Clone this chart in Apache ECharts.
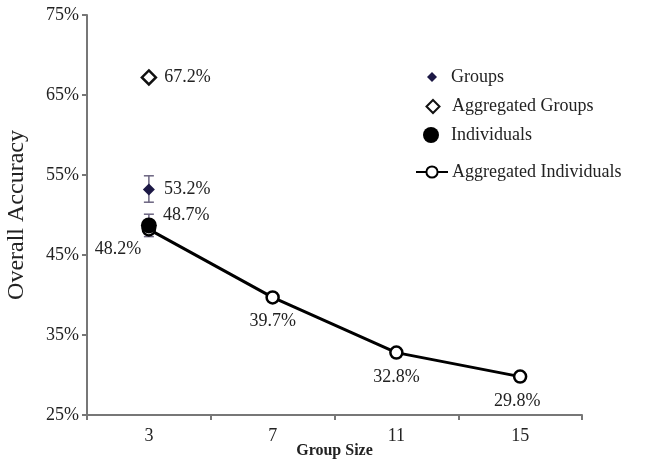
<!DOCTYPE html>
<html>
<head>
<meta charset="utf-8">
<script src="https://cdn.jsdelivr.net/npm/echarts@6/dist/echarts.min.js"></script>
<style>
  html, body { margin: 0; padding: 0; background: #fff; }
  #chart { width: 650px; height: 462px; }
</style>
</head>
<body>
<div id="chart"></div>
<script>
// group sizes on the x axis
const groupSizes = ['3', '7', '11', '15'];

// accuracy values (%)
const groupsVals = [53.2, null, null, null];
const groupsErr = [[0, 51.6, 54.9]];
const aggGroupsVals = [67.2, null, null, null];
const individualsVals = [48.7, null, null, null];
const individualsErr = [[0, 47.3, 50.1]];
const aggIndividualsVals = [48.2, 39.7, 32.8, 29.8];

const font = 'Liberation Serif';

const pctLabel = function (p) {
  return p.value.toFixed(1) + '%';
};

function errorBar(color) {
  return function (params, api) {
    const x = api.value(0);
    const lo = api.coord([x, api.value(1)]);
    const hi = api.coord([x, api.value(2)]);
    const w = 5;
    const st = { stroke: color, lineWidth: 1.5 };
    return {
      type: 'group',
      children: [
        { type: 'line', shape: { x1: lo[0], y1: lo[1], x2: hi[0], y2: hi[1] }, style: st },
        { type: 'line', shape: { x1: lo[0] - w, y1: lo[1], x2: lo[0] + w, y2: lo[1] }, style: st },
        { type: 'line', shape: { x1: hi[0] - w, y1: hi[1], x2: hi[0] + w, y2: hi[1] }, style: st }
      ]
    };
  };
}

// one legend per entry so each icon keeps its own size; text starts at x=451
function legendItem(name, w, h, centerX, centerY) {
  const left = centerX - w / 2;
  return {
    orient: 'vertical',
    left: left,
    top: centerY - h / 2,
    padding: 0,
    itemWidth: w,
    itemHeight: h,
    textStyle: {
      fontFamily: font, fontSize: 18, color: '#222',
      padding: [0, 0, 0, 451 - (left + w + 5)]
    },
    data: [name]
  };
}

var myChart = echarts.init(document.getElementById('chart'));

option = {
  animation: false,
  textStyle: { fontFamily: font },
  grid: { left: 87, right: 68, top: 15, bottom: 47, outerBoundsMode: 'none' },
  legend: [
    legendItem('Groups', 10, 10, 432, 73),
    legendItem('Aggregated Groups', 13, 13, 432, 104),
    legendItem('Individuals', 16, 16, 431, 134),
    legendItem('Aggregated Individuals', 32, 14, 431, 170)
  ],
  xAxis: {
    type: 'category',
    data: groupSizes,
    name: 'Group Size',
    nameLocation: 'middle',
    nameGap: 28,
    nameMoveOverlap: false,
    nameTextStyle: { fontFamily: font, fontSize: 16, fontWeight: 'bold', color: '#222' },
    axisLine: { lineStyle: { color: '#777', width: 2 } },
    axisTick: { show: true, alignWithLabel: false, length: 5, lineStyle: { color: '#777', width: 2 } },
    axisLabel: { fontFamily: font, fontSize: 18, color: '#222', margin: 12 }
  },
  yAxis: {
    type: 'value',
    min: 25,
    max: 75,
    interval: 10,
    name: 'Overall Accuracy',
    nameLocation: 'middle',
    nameGap: 58,
    nameMoveOverlap: false,
    nameTextStyle: { fontFamily: font, fontSize: 24, color: '#222' },
    axisLine: { show: true, lineStyle: { color: '#777', width: 2 } },
    axisTick: { show: true, length: 5, lineStyle: { color: '#777', width: 2 } },
    splitLine: { show: false },
    axisLabel: { fontFamily: font, fontSize: 18, color: '#222', margin: 8, formatter: '{value}%' }
  },
  series: [
    {
      name: 'Groups err',
      type: 'custom',
      renderItem: errorBar('#6b6480'),
      encode: { x: 0, y: [1, 2] },
      data: groupsErr,
      z: 2
    },
    {
      name: 'Individuals err',
      type: 'custom',
      renderItem: errorBar('#6b6480'),
      encode: { x: 0, y: [1, 2] },
      data: individualsErr,
      z: 2
    },
    {
      name: 'Groups',
      type: 'scatter',
      symbol: 'diamond',
      symbolSize: 12,
      itemStyle: { color: '#1c1845', opacity: 1 },
      label: { show: true, position: 'right', distance: 9, formatter: pctLabel, fontFamily: font, fontSize: 18, color: '#222' },
      data: groupsVals,
      z: 3
    },
    {
      name: 'Aggregated Groups',
      type: 'scatter',
      symbol: 'diamond',
      symbolSize: 14,
      itemStyle: { color: '#fff', borderColor: '#111', borderWidth: 2.5, opacity: 1 },
      label: { show: true, position: 'right', distance: 7, formatter: pctLabel, fontFamily: font, fontSize: 18, color: '#222' },
      data: aggGroupsVals,
      z: 3
    },
    {
      name: 'Aggregated Individuals',
      type: 'line',
      symbol: 'circle',
      symbolSize: 12,
      showAllSymbol: true,
      lineStyle: { color: '#000', width: 3 },
      itemStyle: { color: '#fff', borderColor: '#000', borderWidth: 2.5 },
      label: { show: true, position: 'bottom', distance: 8, formatter: pctLabel, fontFamily: font, fontSize: 18, color: '#222' },
      data: aggIndividualsVals.map(function (v, i) {
        if (i === 0) {
          return { value: v, label: { offset: [-31, -4] } };
        }
        if (i === 3) {
          return { value: v, label: { offset: [-3, 0] } };
        }
        return v;
      }),
      z: 4
    },
    {
      name: 'Individuals',
      type: 'scatter',
      symbol: 'circle',
      symbolSize: 16,
      itemStyle: { color: '#000', opacity: 1 },
      label: { show: true, position: 'right', distance: 6, offset: [0, -10], formatter: pctLabel, fontFamily: font, fontSize: 18, color: '#222' },
      data: individualsVals,
      z: 5
    }
  ]
};

myChart.setOption(option);
</script>
</body>
</html>
